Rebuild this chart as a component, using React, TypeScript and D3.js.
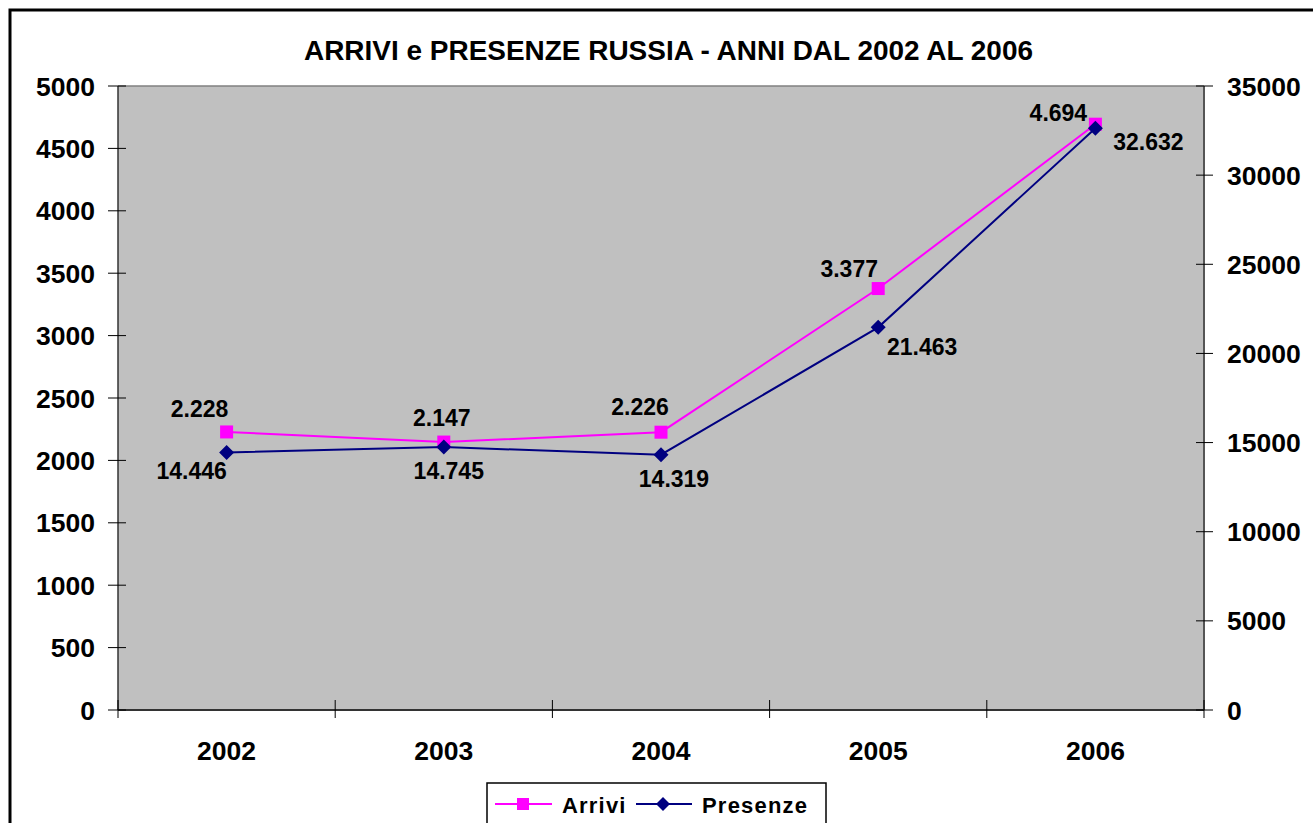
import React from 'react';
import * as d3 from 'd3';

const years = ['2002', '2003', '2004', '2005', '2006'];
const arrivi = [2228, 2147, 2226, 3377, 4694];
const presenze = [14446, 14745, 14319, 21463, 32632];
const leftTicks = [0, 500, 1000, 1500, 2000, 2500, 3000, 3500, 4000, 4500, 5000];
const rightTicks = [0, 5000, 10000, 15000, 20000, 25000, 30000, 35000];

// manual label placement, as in the original sheet
const arriviLabelOffset = [[-27, -15], [-2, -16], [-21, -17], [-29, -12], [-37, -3]];
const presenzeLabelOffset = [[-35, 27], [5, 32], [13, 32], [44, 28], [53, 22]];

const W = 1313;
const H = 823;
const margin = { top: 86, right: 109, bottom: 113, left: 118 };
const FONT = 'Arial, "Liberation Sans", sans-serif';

const it = d3.formatLocale({ decimal: ',', thousands: '.', grouping: [3], currency: ['€', ''] });
const fmt = it.format(',');

const App: React.FC = () => {
  const innerW = W - margin.left - margin.right;
  const innerH = H - margin.top - margin.bottom;

  const x = d3.scaleBand<string>().domain(years).range([margin.left, margin.left + innerW]);
  const yL = d3.scaleLinear().domain([0, 5000]).range([margin.top + innerH, margin.top]);
  const yR = d3.scaleLinear().domain([0, 35000]).range([margin.top + innerH, margin.top]);
  const cx = (i: number) => (x(years[i]) || 0) + x.bandwidth() / 2;

  const lineA = d3
    .line<number>()
    .x((_, i) => cx(i))
    .y((d) => yL(d));
  const lineP = d3
    .line<number>()
    .x((_, i) => cx(i))
    .y((d) => yR(d));

  const x0 = margin.left;
  const x1 = margin.left + innerW;
  const y0 = margin.top + innerH;
  const y1 = margin.top;
  const bounds = [...years.map((yr) => x(yr) || 0), x1];

  return (
    <svg
      width={W}
      height={H}
      style={{ position: 'absolute', left: 0, top: 0 }}
      fontFamily={FONT}
      fontWeight="bold"
    >
      <rect x={0} y={0} width={W} height={H} fill="#fff" />
      <rect x={10} y={10} width={W + 20} height={H + 20} fill="none" stroke="#000" strokeWidth={3} />

      <text x={668.5} y={60} textAnchor="middle" fontSize={27.5} textLength={729} lengthAdjust="spacingAndGlyphs">
        ARRIVI e PRESENZE RUSSIA - ANNI DAL 2002 AL 2006
      </text>

      <rect x={x0} y={y1} width={innerW} height={innerH} fill="#c0c0c0" />
      <line x1={x0} x2={x1} y1={y1} y2={y1} stroke="#808080" strokeWidth={1.5} />

      {/* axes */}
      <line x1={x0} x2={x0} y1={y1} y2={y0} stroke="#333" strokeWidth={1.5} />
      <line x1={x1} x2={x1} y1={y1} y2={y0} stroke="#555" strokeWidth={2} />
      <line x1={x0} x2={x1} y1={y0} y2={y0} stroke="#333" strokeWidth={2} />

      {leftTicks.map((t) => (
        <g key={'l' + t}>
          <line x1={x0 - 10} x2={x0 + 8} y1={yL(t)} y2={yL(t)} stroke="#000" strokeWidth={1} />
          <text x={95} y={yL(t) + 9.5} textAnchor="end" fontSize={26.5}>
            {t}
          </text>
        </g>
      ))}
      {rightTicks.map((t) => (
        <g key={'r' + t}>
          <line x1={x1 - 8} x2={x1 + 9} y1={yR(t)} y2={yR(t)} stroke="#000" strokeWidth={1} />
          <text x={1227} y={yR(t) + 9.5} textAnchor="start" fontSize={26.5}>
            {t}
          </text>
        </g>
      ))}
      {bounds.map((bx, i) => (
        <line key={'b' + i} x1={bx} x2={bx} y1={y0 - 10} y2={y0 + 8} stroke="#000" strokeWidth={1} />
      ))}
      {years.map((yr, i) => (
        <text key={yr} x={cx(i)} y={760} textAnchor="middle" fontSize={26.5}>
          {yr}
        </text>
      ))}

      {/* series */}
      <path d={lineA(arrivi) || ''} fill="none" stroke="#ff00ff" strokeWidth={2} />
      <path d={lineP(presenze) || ''} fill="none" stroke="#000080" strokeWidth={2} />
      {arrivi.map((v, i) => (
        <rect key={'ma' + i} x={cx(i) - 6.5} y={yL(v) - 6.5} width={13} height={13} fill="#ff00ff" />
      ))}
      {presenze.map((v, i) => (
        <path
          key={'mp' + i}
          d={`M${cx(i)},${yR(v) - 7.5}L${cx(i) + 7.5},${yR(v)}L${cx(i)},${yR(v) + 7.5}L${cx(i) - 7.5},${yR(v)}Z`}
          fill="#000080"
        />
      ))}

      {arrivi.map((v, i) => (
        <text
          key={'la' + i}
          x={cx(i) + arriviLabelOffset[i][0]}
          y={yL(v) + arriviLabelOffset[i][1]}
          textAnchor="middle"
          fontSize={23}
        >
          {fmt(v)}
        </text>
      ))}
      {presenze.map((v, i) => (
        <text
          key={'lp' + i}
          x={cx(i) + presenzeLabelOffset[i][0]}
          y={yR(v) + presenzeLabelOffset[i][1]}
          textAnchor="middle"
          fontSize={23}
        >
          {fmt(v)}
        </text>
      ))}

      {/* legend */}
      <rect x={487} y={783} width={339} height={60} fill="#fff" stroke="#000" strokeWidth={1.5} />
      <line x1={495} x2={552} y1={804} y2={804} stroke="#ff00ff" strokeWidth={2} />
      <rect x={517} y={798} width={12} height={12} fill="#ff00ff" />
      <text x={562} y={813} fontSize={22} letterSpacing={1.2}>
        Arrivi
      </text>
      <line x1={636} x2={692} y1={804} y2={804} stroke="#000080" strokeWidth={2} />
      <path d="M663,797L670,804L663,811L656,804Z" fill="#000080" />
      <text x={702} y={813} fontSize={22} letterSpacing={1.2}>
        Presenze
      </text>
    </svg>
  );
};

export default App;
